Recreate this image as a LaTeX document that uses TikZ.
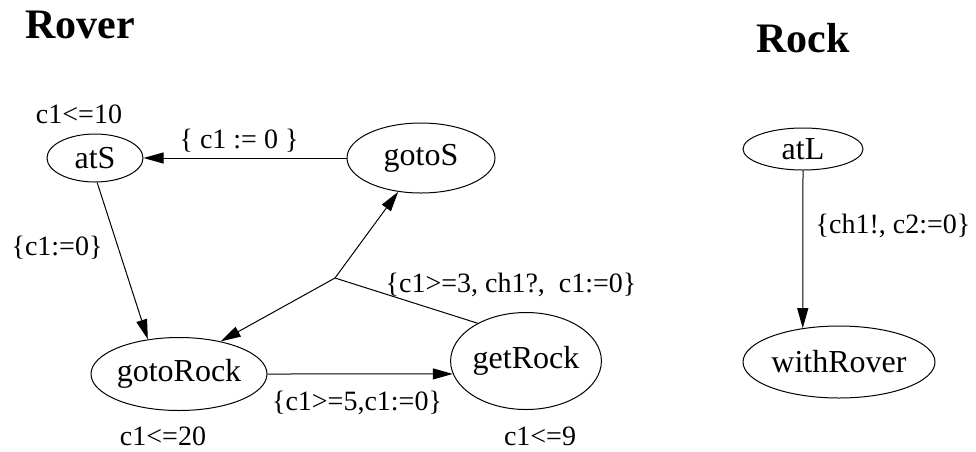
\documentclass[tikz,border=0pt]{standalone}
\usepackage{fontspec}
\setmainfont{Liberation Serif}
\usetikzlibrary{arrows.meta,positioning,shapes.geometric}

\begin{document}
\begin{tikzpicture}[x=1pt, y=-1pt,
      loc/.style={draw, ellipse, inner sep=0pt, line width=1pt,
                  font=\fontsize{32}{36}\selectfont},
      lbl/.style={anchor=base, inner sep=0pt, font=\fontsize{28}{32}\selectfont},
      ttl/.style={anchor=base, inner sep=0pt, font=\fontsize{42}{48}\selectfont\bfseries},
      arr/.style={-{Triangle[length=20pt, width=11pt]}, line width=1pt}]
    \useasboundingbox (0,0) rectangle (976,451);
    % titles
    \node[ttl] (rover) at (80,38) {Rover};
    \node[ttl] (rock) at (803,52) {Rock};
    % rover automaton
    \node[loc, minimum width=96pt, minimum height=48pt] (atS) at (95,158) {atS};
    \node[loc, minimum width=148pt, minimum height=70pt] (gotoS) at (421,158) {gotoS};
    \node[loc, minimum width=168pt, minimum height=73pt] (gotoRock) at (179,374) {gotoRock};
    \node[loc, minimum width=143pt, minimum height=97pt] (getRock) at (526,361) {getRock};
    \coordinate (fork) at (335,278);
    \node[lbl] (invS) at (79,123) {c1<=10};
    \node[lbl] (invGoto) at (163,445) {c1<=20};
    \node[lbl] (invGet) at (540,445) {c1<=9};
    \draw[arr] (gotoS.west) -- (atS.east);
    \draw[arr] (atS.-85) -- (gotoRock.132);
    \draw[arr] (gotoRock.east) -- (getRock.190);
    \draw[line width=1pt] (getRock.142) -- (fork);
    \draw[arr] (fork) -- (gotoS.236);
    \draw[arr] (fork) -- (gotoRock.38);
    \node[lbl] (rstS) at (239,148) {\{ c1 := 0 \}};
    \node[lbl] (rstGoto) at (57,255) {\{c1:=0\}};
    \node[lbl] (grdGet) at (357,410) {\{c1>=5,c1:=0\}};
    \node[lbl] (grdSync) at (511,292) {\{c1>=3, ch1?,\ \ c1:=0\}};
    % rock automaton
    \node[loc, minimum width=120pt, minimum height=42pt] (atL) at (803,149) {atL};
    \node[loc, minimum width=192pt, minimum height=72pt] (withRover) at (839,362) {withRover};
    \draw[arr] (atL.south) -- (withRover.137.5);
    \node[lbl] (sendL) at (893,233) {\{ch1!, c2:=0\}};
\end{tikzpicture}
\end{document}
